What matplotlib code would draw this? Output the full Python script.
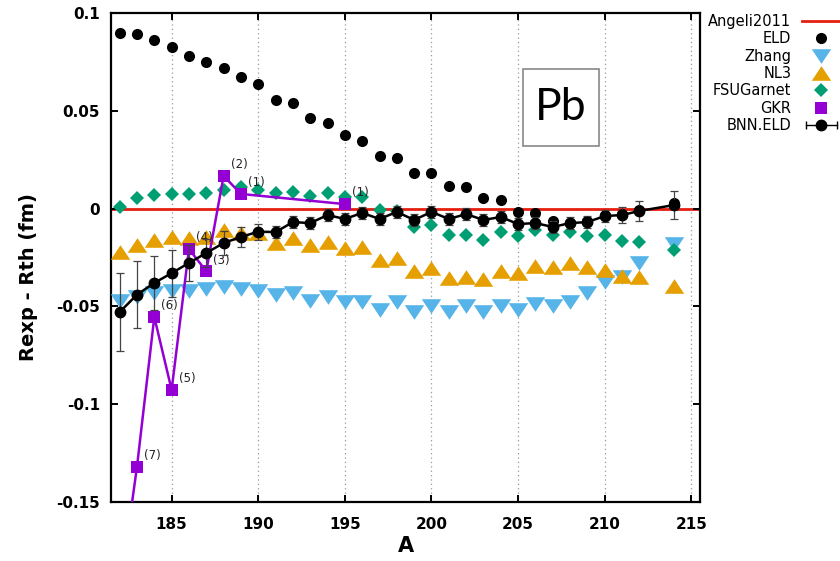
import numpy as np
import matplotlib
matplotlib.use("Agg")
import matplotlib.pyplot as plt
from matplotlib.lines import Line2D
from matplotlib.patches import Rectangle
from matplotlib.legend_handler import HandlerLine2D, HandlerTuple

# ---------------- data ----------------
A = [182, 183, 184, 185, 186, 187, 188, 189, 190, 191, 192, 193, 194, 195, 196,
     197, 198, 199, 200, 201, 202, 203, 204, 205, 206, 207, 208, 209, 210, 211,
     212, 214]

eld = [0.0898, 0.0893, 0.0862, 0.0826, 0.0780, 0.0750, 0.0719, 0.0673, 0.0637,
       0.0555, 0.0540, 0.0463, 0.0438, 0.0376, 0.0346, 0.0269, 0.0259, 0.0182,
       0.0182, 0.0116, 0.0110, 0.0054, 0.0046, -0.0018, -0.0020, -0.0064,
       -0.0072, -0.0062, -0.0035, -0.0028, -0.0008, 0.0030]

zhang = [-0.047, -0.045, -0.043, -0.042, -0.042, -0.041, -0.040, -0.041, -0.042,
         -0.044, -0.043, -0.047, -0.045, -0.048, -0.048, -0.052, -0.048, -0.053,
         -0.050, -0.053, -0.050, -0.053, -0.050, -0.052, -0.049, -0.050, -0.048,
         -0.043, -0.0375, -0.035, -0.028, -0.018]

nl3 = [-0.0222, -0.0186, -0.0160, -0.0145, -0.0150, -0.0145, -0.0110, -0.0125,
       -0.0125, -0.0176, -0.0150, -0.0186, -0.0170, -0.0200, -0.0196, -0.0263,
       -0.0253, -0.0320, -0.0304, -0.0355, -0.0350, -0.0360, -0.0320, -0.0329,
       -0.0294, -0.0300, -0.0278, -0.0300, -0.0314, -0.0345, -0.0350, -0.0396]

fsu = [0.0008, 0.0054, 0.0070, 0.0075, 0.0075, 0.0080, 0.0095, 0.0110, 0.0095,
       0.0080, 0.0085, 0.0065, 0.0080, 0.0060, 0.0060, -0.0007, -0.0012, -0.0094,
       -0.0084, -0.0135, -0.0135, -0.0160, -0.0120, -0.0140, -0.0110, -0.0135,
       -0.0120, -0.0140, -0.0135, -0.0166, -0.0170, -0.0210]

bnn = [-0.0529, -0.0440, -0.0380, -0.0330, -0.0278, -0.0227, -0.0176, -0.0145,
       -0.0118, -0.0120, -0.0069, -0.0074, -0.0033, -0.0053, -0.0022, -0.0053,
       -0.0017, -0.0058, -0.0017, -0.0053, -0.0028, -0.0058, -0.0043, -0.0079,
       -0.0074, -0.0094, -0.0074, -0.0069, -0.0038, -0.0033, -0.0012, 0.0018]

bnn_err = [0.020, 0.017, 0.014, 0.012, 0.009, 0.007, 0.006, 0.005, 0.004, 0.003,
           0.003, 0.003, 0.003, 0.003, 0.003, 0.003, 0.003, 0.003, 0.003, 0.003,
           0.003, 0.003, 0.003, 0.003, 0.003, 0.003, 0.003, 0.003, 0.003, 0.004,
           0.005, 0.007]

gkr_A = [182, 183, 184, 185, 186, 187, 188, 189, 195]
gkr = [-0.196, -0.132, -0.0554, -0.0927, -0.0207, -0.0320, 0.0167, 0.0075, 0.0023]
gkr_labels = ['', '(7)', '(6)', '(5)', '(4)', '(3)', '(2)', '(1)', '(1)']

xticks = [185, 190, 195, 200, 205, 210, 215]
yticks = [0.1, 0.05, 0, -0.05, -0.1, -0.15]
ytick_labels = ['0.1', '0.05', '0', '-0.05', '-0.1', '-0.15']

# ---------------- style ----------------
RED = '#e51e10'
BLUE = '#56b4e9'
ORANGE = '#e69f00'
GREEN = '#009e73'
PURPLE = '#9400d3'

up_tri = [(0, 0.75), (-1, -0.75), (1, -0.75), (0, 0.75)]
down_tri = [(0, -0.75), (-1, 0.75), (1, 0.75), (0, -0.75)]

fig = plt.figure(figsize=(8.4, 5.61), dpi=100)
ax = fig.add_axes([111 / 840, 1 - 502 / 561, (700 - 111) / 840, (502 - 13) / 561])

ax.set_xlim(181.5, 215.5)
ax.set_ylim(-0.15, 0.1)

# grid (vertical dotted only)
for xt in xticks:
    ax.axvline(xt, color='#999999', lw=0.9, ls=(0, (1, 2.5)), zorder=0)

h_ang = ax.axhline(0, color=RED, lw=2, zorder=1)

h_eld, = ax.plot(A, eld, ls='none', marker='o', ms=8, color='black', mew=0, zorder=2)
h_zh, = ax.plot(A, zhang, ls='none', marker=down_tri, ms=14, color=BLUE, mew=0, zorder=3)
h_nl3, = ax.plot(A, nl3, ls='none', marker=up_tri, ms=14, color=ORANGE, mew=0, zorder=4)
h_fsu, = ax.plot(A, fsu, ls='none', marker='D', ms=7, color=GREEN, mew=0, zorder=5)
h_gkr, = ax.plot(gkr_A, gkr, ls='-', lw=1.8, marker='s', ms=8.5, color=PURPLE, mew=0, zorder=6)
for xa, ya, lab in zip(gkr_A, gkr, gkr_labels):
    if lab:
        ax.annotate(lab, (xa, ya), xytext=(5, 8), textcoords='offset points',
                    ha='left', va='center', fontsize=8.5, color='#222222', zorder=7)

eb = ax.errorbar(A, bnn, yerr=bnn_err, fmt='o-', color='black', ms=7.5, lw=1.8,
                 ecolor='#444444', elinewidth=0.9, capsize=3, capthick=0.9, zorder=8)

# Pb box
ax.add_patch(Rectangle((0.6995, 0.728), 0.129, 0.1575, transform=ax.transAxes,
                       fill=False, edgecolor='#888888', lw=1.2, zorder=9))
ax.text(0.764, 0.806, 'Pb', transform=ax.transAxes, ha='center', va='center',
        fontsize=32, family='Lato', zorder=10)

# axes styling
for sp in ax.spines.values():
    sp.set_linewidth(1.6)
ax.set_xticks(xticks)
ax.set_yticks(yticks)
ax.set_yticklabels(ytick_labels)
ax.tick_params(direction='in', length=5, width=1.4, top=True, right=True,
               labelsize=11)
ax.tick_params(axis='x', pad=11)
ax.tick_params(axis='y', pad=8)
for lab in ax.get_xticklabels() + ax.get_yticklabels():
    lab.set_fontweight('bold')

ax.set_xlabel('A', fontsize=15, fontweight='bold')
ax.xaxis.set_label_coords(0.5, -0.07)
ax.set_ylabel('Rexp - Rth (fm)', fontsize=14, fontweight='bold')
ax.yaxis.set_label_coords(-0.124, 0.46)

# legend
leg_ang = Line2D([], [], color=RED, lw=2)
leg_eld = Line2D([], [], ls='none', marker='o', ms=8, color='black', mew=0)
leg_zh = Line2D([], [], ls='none', marker=down_tri, ms=14, color=BLUE, mew=0)
leg_nl3 = Line2D([], [], ls='none', marker=up_tri, ms=14, color=ORANGE, mew=0)
leg_fsu = Line2D([], [], ls='none', marker='D', ms=7, color=GREEN, mew=0)
leg_gkr = Line2D([], [], ls='none', marker='s', ms=8.5, color=PURPLE, mew=0)
leg_bnn_ticks = Line2D([], [], color='black', lw=1.0, marker='|', ms=6, mew=1.0)
leg_bnn_dot = Line2D([], [], ls='none', marker='o', ms=7.5, color='black')
handles = [leg_ang, leg_eld, leg_zh, leg_nl3, leg_fsu, leg_gkr, (leg_bnn_ticks, leg_bnn_dot)]
labels = ['Angeli2011', 'ELD', 'Zhang', 'NL3', 'FSUGarnet', 'GKR', 'BNN.ELD']
ax.legend(handles, labels, loc='upper right', bbox_to_anchor=(841 / 840, 1 - 14 / 561),
          bbox_transform=fig.transFigure, markerfirst=False, frameon=False,
          fontsize=10.5, handlelength=2.7, handletextpad=0.7, labelspacing=0.16,
          borderpad=0, borderaxespad=0,
          handler_map={leg_bnn_ticks: HandlerLine2D(numpoints=2),
                       leg_bnn_dot: HandlerLine2D(numpoints=1),
                       tuple: HandlerTuple(ndivide=1, pad=0)})

fig.savefig('out.png', dpi=100)
